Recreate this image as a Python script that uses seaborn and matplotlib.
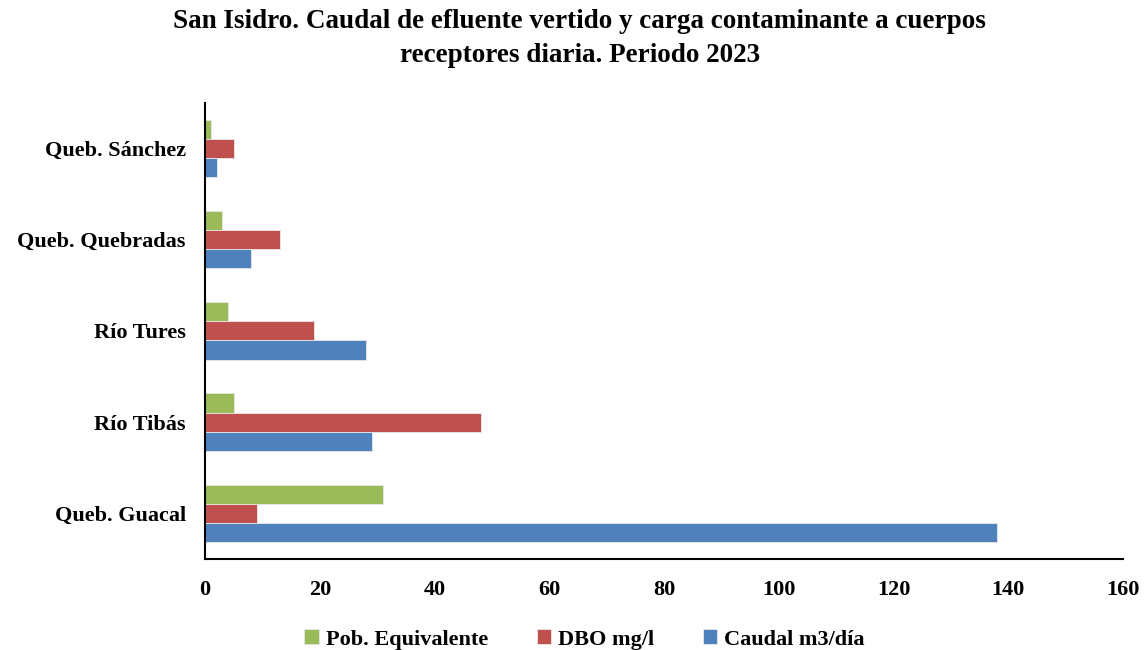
import matplotlib
matplotlib.use("Agg")
import matplotlib.pyplot as plt
import seaborn as sns
import pandas as pd

categories = ["Queb. Sánchez", "Queb. Quebradas", "Río Tures", "Río Tibás", "Queb. Guacal"]
series_names = ["Pob. Equivalente", "DBO mg/l", "Caudal m3/día"]
pob_equivalente = [1, 3, 4, 5, 31]
dbo = [5, 13, 19, 48, 9]
caudal = [2, 8, 28, 29, 138]
colors = ["#9BBB59", "#C0504D", "#4F81BD"]
x_ticks = [0, 20, 40, 60, 80, 100, 120, 140, 160]

rows = []
for name, vals in zip(series_names, [pob_equivalente, dbo, caudal]):
    for c, v in zip(categories, vals):
        rows.append({"Cuerpo": c, "Serie": name, "Valor": v})
df = pd.DataFrame(rows)

sns.set_theme(style="white")
plt.rcParams["font.family"] = ["Liberation Serif", "DejaVu Serif"]
plt.rcParams["text.color"] = "black"
plt.rcParams["xtick.color"] = "black"
plt.rcParams["ytick.color"] = "black"

fig = plt.figure(figsize=(11.46, 6.5), dpi=100)
ax = fig.add_axes([0.179, 0.140, 0.801, 0.702])

sns.barplot(data=df, y="Cuerpo", x="Valor", hue="Serie", order=categories,
            hue_order=series_names, palette=colors, width=0.63, orient="h",
            edgecolor="#E8E8E8", linewidth=0.6, saturation=1, ax=ax)

ax.set_xlim(0, 160)
ax.set_ylim(4.5, -0.5)
ax.set_xticks(x_ticks)
ax.set_xticklabels([str(t) for t in x_ticks], fontsize=16, fontweight="bold", color="black")
for lab in ax.get_yticklabels():
    lab.set_fontsize(16)
    lab.set_fontweight("bold")
    lab.set_color("black")
ax.tick_params(axis="y", length=0, pad=14)
ax.tick_params(axis="x", length=0, pad=15)
ax.set_xlabel("")
ax.set_ylabel("")
for s in ["top", "right"]:
    ax.spines[s].set_visible(False)
for s in ["left", "bottom"]:
    ax.spines[s].set_color("black")
    ax.spines[s].set_linewidth(1.5)

handles, labels = ax.get_legend_handles_labels()
ax.legend_.remove()
fig.legend(handles, labels, loc="center", bbox_to_anchor=(0.51, 0.016), ncol=3,
           frameon=False, handlelength=0.65, handleheight=0.65, handletextpad=0.3,
           columnspacing=2.2, prop={"size": 16, "weight": "bold"})

fig.text(0.506, 0.941, "San Isidro. Caudal de efluente vertido y carga contaminante a cuerpos\nreceptores diaria. Periodo 2023",
         ha="center", va="center", fontsize=19.5, fontweight="bold", linespacing=1.45, color="black")

fig.savefig("out.png", dpi=100)
